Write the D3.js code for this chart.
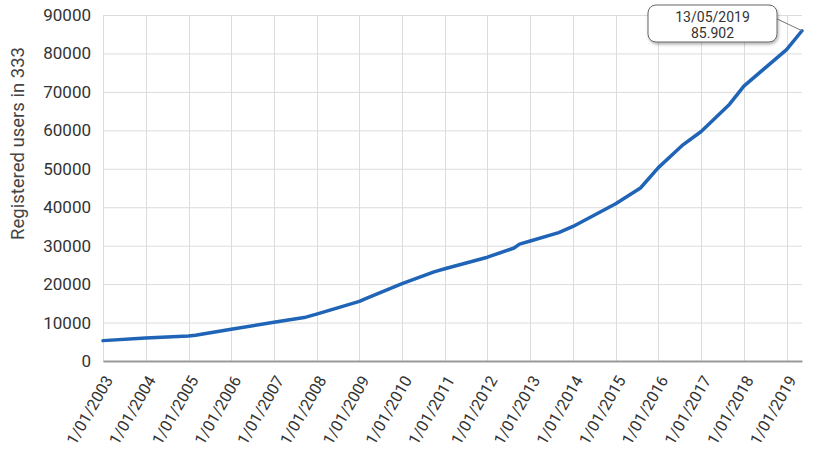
<!DOCTYPE html>
<html>
<head>
<meta charset="utf-8">
<script src="https://cdn.jsdelivr.net/npm/d3@7"></script>
<style>
  html, body { margin: 0; padding: 0; background: #fff; }
  svg { display: block; font-family: Roboto, "Noto Sans", Arial, sans-serif; }
</style>
</head>
<body>
<svg id="chart" width="820" height="470"></svg>
<script>
// ---- data ----
const dates = ["2003-01-01","2004-01-01","2005-01-01","2005-03-01","2006-01-01","2007-01-01",
  "2007-10-01","2008-01-01","2009-01-01","2009-03-01","2010-01-01","2010-10-01","2011-01-01",
  "2012-01-01","2012-08-15","2012-10-01","2013-01-01","2013-09-01","2014-01-01","2015-01-01",
  "2015-08-01","2016-01-01","2016-08-01","2017-01-01","2017-09-01","2018-01-01","2019-01-01","2019-05-13"];
const users = [5300,6000,6500,6700,8250,10100,
  11400,12200,15500,16300,20100,23200,24000,
  27000,29400,30400,31200,33400,35000,40900,
  45000,50300,56300,59700,66800,71500,81000,85902];
const xTickYears = [2003,2004,2005,2006,2007,2008,2009,2010,2011,2012,2013,2014,2015,2016,2017,2018,2019];
const xTickLabels = xTickYears.map(y => "1/01/" + y);
const yTicks = [0,10000,20000,30000,40000,50000,60000,70000,80000,90000];
const yTitle = "Registered users in 333";
const calloutDate = "13/05/2019";
const calloutValue = "85.902";

// ---- layout ----
const W = 820, H = 470;
const m = { left: 103, right: 18, top: 15, bottom: 109 };
const iw = W - m.left - m.right, ih = H - m.top - m.bottom;
const parse = d3.timeParse("%Y-%m-%d");
const data = dates.map((d, i) => ({ date: parse(d), value: users[i] }));

const svg = d3.select("#chart");
const g = svg.append("g").attr("transform", `translate(${m.left},${m.top})`);

const x = d3.scaleTime().domain([parse("2003-01-01"), parse("2019-05-13")]).range([0, iw]);
const y = d3.scaleLinear().domain([0, 90000]).range([ih, 0]);
const tickDates = xTickYears.map(yr => new Date(yr, 0, 1));

// gridlines
g.append("g").selectAll("line").data(yTicks).join("line")
  .attr("x1", 0).attr("x2", iw)
  .attr("y1", d => y(d) + 0.5).attr("y2", d => y(d) + 0.5)
  .attr("stroke", "#dcdcdc").attr("stroke-width", 1);
g.append("g").selectAll("line").data(tickDates).join("line")
  .attr("x1", d => Math.round(x(d)) + 0.5).attr("x2", d => Math.round(x(d)) + 0.5)
  .attr("y1", 0).attr("y2", ih)
  .attr("stroke", "#dcdcdc").attr("stroke-width", 1);

// y axis labels
const yAxis = g.append("g").call(d3.axisLeft(y).tickValues(yTicks).tickSize(0).tickPadding(12).tickFormat(d3.format("d")));
yAxis.select(".domain").remove();
yAxis.selectAll("text").attr("font-size", 17).attr("fill", "#333").attr("font-family", "Roboto, sans-serif");

// x axis
const xAxis = g.append("g").attr("transform", `translate(0,${ih})`)
  .call(d3.axisBottom(x).tickValues(tickDates).tickSize(0).tickFormat((d, i) => xTickLabels[i]));
xAxis.select(".domain").attr("stroke", "#9a9a9a").attr("stroke-width", 2);
xAxis.selectAll("text")
  .attr("font-size", 16).attr("fill", "#333").attr("font-family", "Roboto, sans-serif")
  .attr("text-anchor", "end")
  .attr("dy", 0).attr("y", 0)
  .attr("transform", "translate(10,19) rotate(-60)");

// y title
svg.append("text")
  .attr("transform", `translate(24,143.5) rotate(-90)`)
  .attr("text-anchor", "middle")
  .attr("font-size", 18.5).attr("fill", "#444")
  .text(yTitle);

// line
const line = d3.line().x(d => x(d.date)).y(d => y(d.value));
g.append("path").datum(data)
  .attr("fill", "none").attr("stroke", "#1f64b6").attr("stroke-width", 3.5)
  .attr("stroke-linejoin", "round").attr("stroke-linecap", "round")
  .attr("d", line);

// callout
const last = data[data.length - 1];
const px = x(last.date), py = y(last.value);
const defs = svg.append("defs");
const f = defs.append("filter").attr("id", "sh").attr("x", "-20%").attr("y", "-30%").attr("width", "140%").attr("height", "170%");
f.append("feDropShadow").attr("dx", 1).attr("dy", 2).attr("stdDeviation", 1.5).attr("flood-color", "#000").attr("flood-opacity", 0.3);
const bx = 648 - m.left, by = 5 - m.top, bw = 129, bh = 37;
g.append("line").attr("x1", bx + bw - 4).attr("y1", by + 12).attr("x2", px).attr("y2", py)
  .attr("stroke", "#777").attr("stroke-width", 1);
g.append("rect").attr("x", bx).attr("y", by).attr("width", bw).attr("height", bh)
  .attr("rx", 8).attr("ry", 8).attr("fill", "#fff").attr("stroke", "#666").attr("stroke-width", 1)
  .attr("filter", "url(#sh)");
g.append("text").attr("x", bx + bw / 2).attr("y", by + 17).attr("text-anchor", "middle")
  .attr("font-size", 14).attr("fill", "#333").text(calloutDate);
g.append("text").attr("x", bx + bw / 2).attr("y", by + 33.2).attr("text-anchor", "middle")
  .attr("font-size", 14).attr("fill", "#333").text(calloutValue);
</script>
</body>
</html>
